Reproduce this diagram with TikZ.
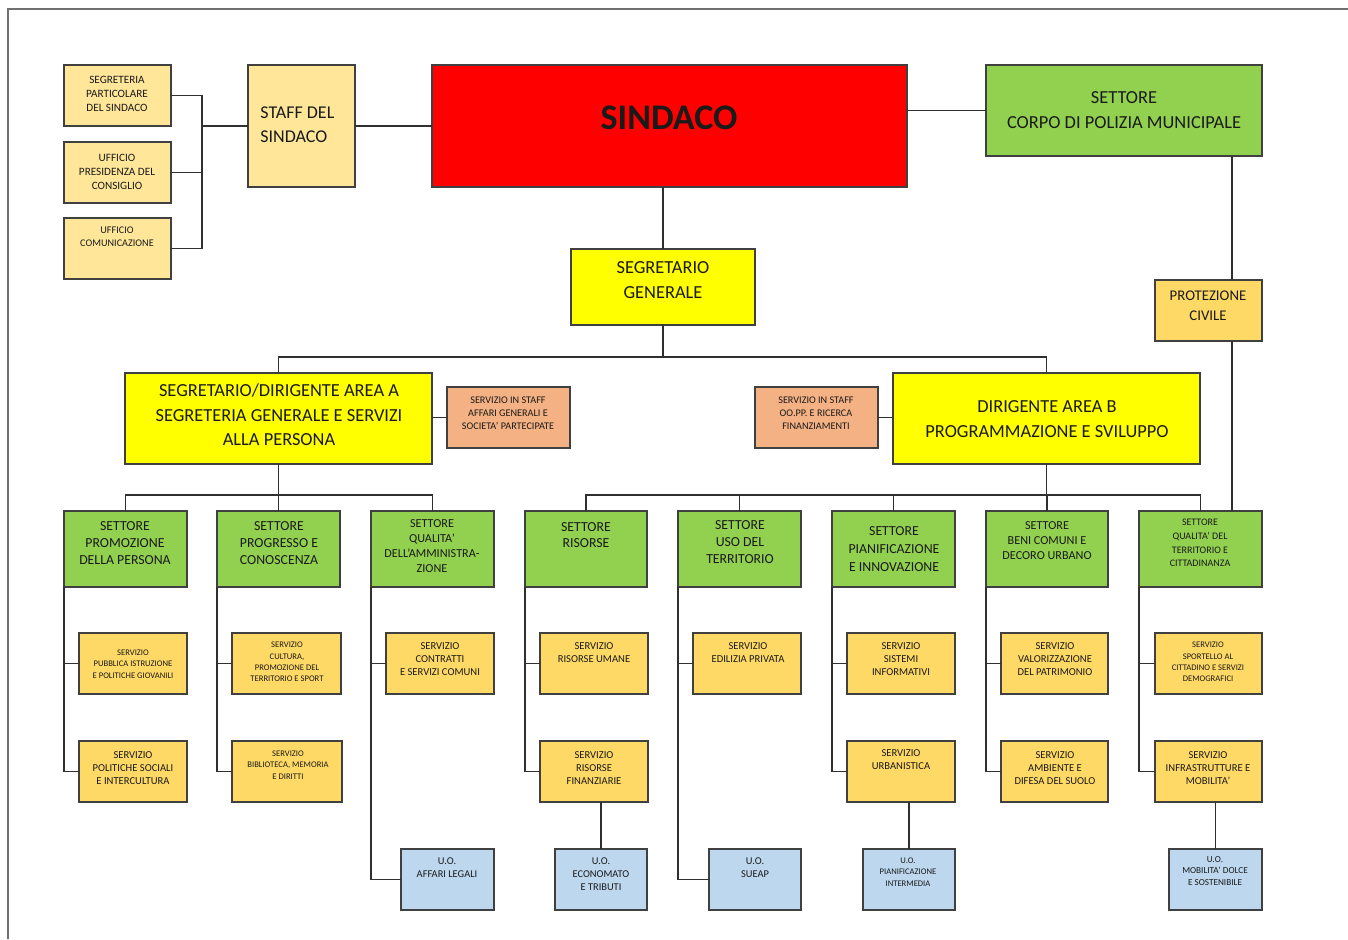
\documentclass[tikz,border=0pt]{standalone}
\usepackage{fontspec}
\setmainfont{Carlito}
\usetikzlibrary{calc}
\definecolor{cred}{HTML}{FF0000}
\definecolor{cgreen}{HTML}{92D050}
\definecolor{cyellow}{HTML}{FFFF00}
\definecolor{clight}{HTML}{FFE699}
\definecolor{cgold}{HTML}{FFD966}
\definecolor{csalmon}{HTML}{F4B183}
\definecolor{cblue}{HTML}{BDD7EE}
\definecolor{cborder}{HTML}{404040}
\definecolor{cline}{HTML}{303030}
\definecolor{ctext}{HTML}{1A1A1A}
\definecolor{cframe}{HTML}{707070}
\tikzset{
  orgbox/.style={draw=cborder, line width=0.7pt, inner sep=0pt, outer sep=0pt},
  conn/.style={draw=cline, line width=0.7pt},
  txt/.style={align=center, text=ctext, inner sep=0pt},
  fbig/.style={font=\fontsize{9.2}{12.3}\selectfont},
  fstaff/.style={font=\fontsize{9}{11.8}\selectfont},
  fset/.style={font=\fontsize{6.9}{8.3}\selectfont},
  fsetsm/.style={font=\fontsize{6.1}{7.5}\selectfont},
  fsetxs/.style={font=\fontsize{5.0}{6.8}\selectfont},
  fprot/.style={font=\fontsize{7.4}{10}\selectfont},
  ftl/.style={font=\fontsize{5.6}{7.1}\selectfont},
  fstf/.style={font=\fontsize{5.1}{6.6}\selectfont},
  fsrv/.style={font=\fontsize{5.3}{6.5}\selectfont},
  ftiny/.style={font=\fontsize{4.3}{5.7}\selectfont},
  fuo/.style={font=\fontsize{5.2}{6.5}\selectfont},
}
% \obox{name}{x1}{y1}{x2}{y2}{fill}
\newcommand{\obox}[6]{%
  \node[orgbox, fill=#6, minimum width={(#4-#2)*0.5pt}, minimum height={(#5-#3)*0.5pt}]
    (#1) at ({(#2+#4)/2},{(#3+#5)/2}) {};}
\begin{document}
\begin{tikzpicture}[x=0.5pt, y=-0.5pt]
\useasboundingbox (0,0) rectangle (1348,939);
\fill[white] (0,0) rectangle (1348,939);
% frame
\draw[cframe, line width=0.8pt] (1348,9) -- (8,9) -- (8,939);

% top-left boxes
\obox{segpart}{64}{65}{171}{126}{clight}
\obox{upres}{64}{142}{171}{203}{clight}
\obox{ucom}{64}{218}{171}{279}{clight}
\obox{staff}{248}{65}{355}{187}{clight}
\obox{sindaco}{432}{65}{907}{187}{cred}
\obox{polizia}{986}{65}{1262}{156}{cgreen}
\obox{sg}{571}{249}{755}{325}{cyellow}
\obox{prot}{1155}{280}{1262}{341}{cgold}
\obox{areaA}{125}{373}{432}{464}{cyellow}
\obox{staffA}{447}{387}{570}{448}{csalmon}
\obox{staffB}{755}{387}{878}{448}{csalmon}
\obox{areaB}{893}{373}{1200}{464}{cyellow}

% settori
\obox{s1}{64}{511}{187}{587}{cgreen}
\obox{s2}{217}{511}{340}{587}{cgreen}
\obox{s3}{371}{511}{494}{587}{cgreen}
\obox{s4}{525}{511}{647}{587}{cgreen}
\obox{s5}{678}{511}{801}{587}{cgreen}
\obox{s6}{832}{511}{955}{587}{cgreen}
\obox{s7}{986}{511}{1108}{587}{cgreen}
\obox{s8}{1139}{511}{1262}{587}{cgreen}

% servizi
\obox{s1a}{79}{633}{187}{694}{cgold}
\obox{s1b}{79}{741}{187}{802}{cgold}
\obox{s2a}{232}{633}{341}{694}{cgold}
\obox{s2b}{232}{741}{342}{802}{cgold}
\obox{s3a}{386}{633}{494}{694}{cgold}
\obox{s4a}{540}{633}{648}{694}{cgold}
\obox{s4b}{540}{741}{648}{802}{cgold}
\obox{s5a}{693}{633}{801}{694}{cgold}
\obox{s6a}{847}{633}{955}{694}{cgold}
\obox{s6b}{847}{741}{955}{802}{cgold}
\obox{s7a}{1001}{633}{1108}{694}{cgold}
\obox{s7b}{1001}{741}{1108}{802}{cgold}
\obox{s8a}{1155}{633}{1262}{694}{cgold}
\obox{s8b}{1155}{741}{1262}{802}{cgold}

% U.O.
\obox{uo3}{401}{849}{494}{910}{cblue}
\obox{uo4}{555}{849}{647}{910}{cblue}
\obox{uo5}{709}{849}{801}{910}{cblue}
\obox{uo6}{863}{849}{955}{910}{cblue}
\obox{uo8}{1169}{849}{1262}{910}{cblue}

% texts
\node[txt, ftl] (segpart-t) at (117,94) {SEGRETERIA\\PARTICOLARE\\DEL SINDACO};
\node[txt, ftl] (upres-t) at (117,172) {UFFICIO\\PRESIDENZA DEL\\CONSIGLIO};
\node[txt, font=\fontsize{5.1}{6.4}\selectfont] (ucom-t) at (117,237) {UFFICIO\\COMUNICAZIONE};
\node[txt, fstaff, align=left, anchor=west] (staff-t) at (260,125) {STAFF DEL\\SINDACO};
\node[txt, font=\fontsize{18}{20}\bfseries] (sindaco-t) at (669,118) {SINDACO};
\node[txt, fbig] (polizia-t) at (1124,110) {SETTORE\\CORPO DI POLIZIA MUNICIPALE};
\node[txt, fbig] (sg-t) at (663,280) {SEGRETARIO\\GENERALE};
\node[txt, fprot] (prot-t) at (1208,306) {PROTEZIONE\\CIVILE};
\node[txt, fbig] (areaA-t) at (279,415) {SEGRETARIO/DIRIGENTE AREA A\\SEGRETERIA GENERALE E SERVIZI\\ALLA PERSONA};
\node[txt, fstf] (staffA-t) at (508,413) {SERVIZIO IN STAFF\\AFFARI GENERALI E\\SOCIETA’ PARTECIPATE};
\node[txt, fstf] (staffB-t) at (816,413) {SERVIZIO IN STAFF\\OO.PP. E RICERCA\\FINANZIAMENTI};
\node[txt, fbig] (areaB-t) at (1047,419) {DIRIGENTE AREA B\\PROGRAMMAZIONE E SVILUPPO};

\node[txt, fset] (s1-t) at (125,543) {SETTORE\\PROMOZIONE\\DELLA PERSONA};
\node[txt, fset] (s2-t) at (279,543) {SETTORE\\PROGRESSO E\\CONOSCENZA};
\node[txt, fsetsm] (s3-t) at (432,546) {SETTORE\\QUALITA’\\DELL’AMMINISTRA-\\ZIONE};
\node[txt, fset] (s4-t) at (586,535) {SETTORE\\RISORSE};
\node[txt, fset] (s5-t) at (740,542) {SETTORE\\USO DEL\\TERRITORIO};
\node[txt, font=\fontsize{6.9}{9}\selectfont] (s6-t) at (894,549) {SETTORE\\PIANIFICAZIONE\\E INNOVAZIONE};
\node[txt, fsetsm] (s7-t) at (1047,541) {SETTORE\\BENI COMUNI E\\DECORO URBANO};
\node[txt, fsetxs] (s8-t) at (1200,543) {SETTORE\\QUALITA’ DEL\\TERRITORIO E\\CITTADINANZA};

\node[txt, ftiny] (s1a-t) at (133,664) {SERVIZIO\\PUBBLICA ISTRUZIONE\\E POLITICHE GIOVANILI};
\node[txt, fsrv] (s1b-t) at (133,768) {SERVIZIO\\POLITICHE SOCIALI\\E INTERCULTURA};
\node[txt, ftiny] (s2a-t) at (287,662) {SERVIZIO\\CULTURA,\\PROMOZIONE DEL\\TERRITORIO E SPORT};
\node[txt, ftiny] (s2b-t) at (288,765) {SERVIZIO\\BIBLIOTECA, MEMORIA\\E DIRITTI};
\node[txt, fsrv] (s3a-t) at (440,659) {SERVIZIO\\CONTRATTI\\E SERVIZI COMUNI};
\node[txt, fsrv] (s4a-t) at (594,652.5) {SERVIZIO\\RISORSE UMANE};
\node[txt, fsrv] (s4b-t) at (594,768) {SERVIZIO\\RISORSE\\FINANZIARIE};
\node[txt, fsrv] (s5a-t) at (748,652.5) {SERVIZIO\\EDILIZIA PRIVATA};
\node[txt, fsrv] (s6a-t) at (901,659) {SERVIZIO\\SISTEMI\\INFORMATIVI};
\node[txt, fsrv] (s6b-t) at (901,760) {SERVIZIO\\URBANISTICA};
\node[txt, fsrv] (s7a-t) at (1055,659) {SERVIZIO\\VALORIZZAZIONE\\DEL PATRIMONIO};
\node[txt, fsrv] (s7b-t) at (1055,768) {SERVIZIO\\AMBIENTE E\\DIFESA DEL SUOLO};
\node[txt, ftiny] (s8a-t) at (1208,662) {SERVIZIO\\SPORTELLO AL\\CITTADINO E SERVIZI\\DEMOGRAFICI};
\node[txt, fsrv] (s8b-t) at (1208,768) {SERVIZIO\\INFRASTRUTTURE E\\MOBILITA’};

\node[txt, fuo] (uo3-t) at (447,868) {U.O.\\AFFARI LEGALI};
\node[txt, fuo] (uo4-t) at (601,874) {U.O.\\ECONOMATO\\E TRIBUTI};
\node[txt, fuo] (uo5-t) at (755,868) {U.O.\\SUEAP};
\node[txt, ftiny] (uo6-t) at (908,872) {U.O.\\PIANIFICAZIONE\\INTERMEDIA};
\node[txt, font=\fontsize{4.6}{5.6}\selectfont] (uo8-t) at (1215,871) {U.O.\\MOBILITA’ DOLCE\\E SOSTENIBILE};

% connectors
\coordinate (tl) at (202,126);
\draw[conn] (segpart.east) -| (tl) |- (ucom.east);
\draw[conn] (upres.east) -- (upres.east -| tl);
\draw[conn] (tl) -- (staff.west);
\draw[conn] (staff.east) -- (sindaco.west);
\draw[conn] (sindaco.east |- polizia.west) -- (polizia.west);
\coordinate (pl) at (1232,0);
\draw[conn] (polizia.south -| pl) -- (prot.north -| pl);
\draw[conn] (prot.south -| pl) -- (s8.north -| pl);
\draw[conn] (sindaco.south -| sg.north) -- (sg.north);
\coordinate (busTop) at ($(sg.south)+(0,32)$);
\draw[conn] (sg.south) -- (busTop);
\draw[conn] (busTop) -| (areaA.north);
\draw[conn] (busTop) -| (areaB.north);
\draw[conn] (areaA.east |- staffA.west) -- (staffA.west);
\draw[conn] (staffB.east) -- (areaB.west |- staffB.east);
\coordinate (busA) at ($(areaA.south)+(0,31)$);
\coordinate (busB) at ($(areaB.south)+(0,31)$);
\draw[conn] (areaA.south) -- (busA);
\draw[conn] (areaB.south) -- (busB);
\foreach \s in {s1,s2,s3} \draw[conn] (busA) -| (\s.north);
\foreach \s in {s4,s5,s6,s7,s8} \draw[conn] (busB) -| (\s.north);

\draw[conn] (s1.south west) |- (s1a.west);
\draw[conn] (s1.south west) |- (s1b.west);
\draw[conn] (s2.south west) |- (s2a.west);
\draw[conn] (s2.south west) |- (s2b.west);
\draw[conn] (s3.south west) |- (s3a.west);
\draw[conn] (s3.south west) |- (uo3.west);
\draw[conn] (s4.south west) |- (s4a.west);
\draw[conn] (s4.south west) |- (s4b.west);
\draw[conn] (uo4.north |- s4b.south) -- (uo4.north);
\draw[conn] (s5.south west) |- (s5a.west);
\draw[conn] (s5.south west) |- (uo5.west);
\draw[conn] (s6.south west) |- (s6a.west);
\draw[conn] (s6.south west) |- (s6b.west);
\draw[conn] (uo6.north |- s6b.south) -- (uo6.north);
\draw[conn] (s7.south west) |- (s7a.west);
\draw[conn] (s7.south west) |- (s7b.west);
\draw[conn] (s8.south west) |- (s8a.west);
\draw[conn] (s8.south west) |- (s8b.west);
\draw[conn] (uo8.north |- s8b.south) -- (uo8.north);
\end{tikzpicture}
\end{document}
